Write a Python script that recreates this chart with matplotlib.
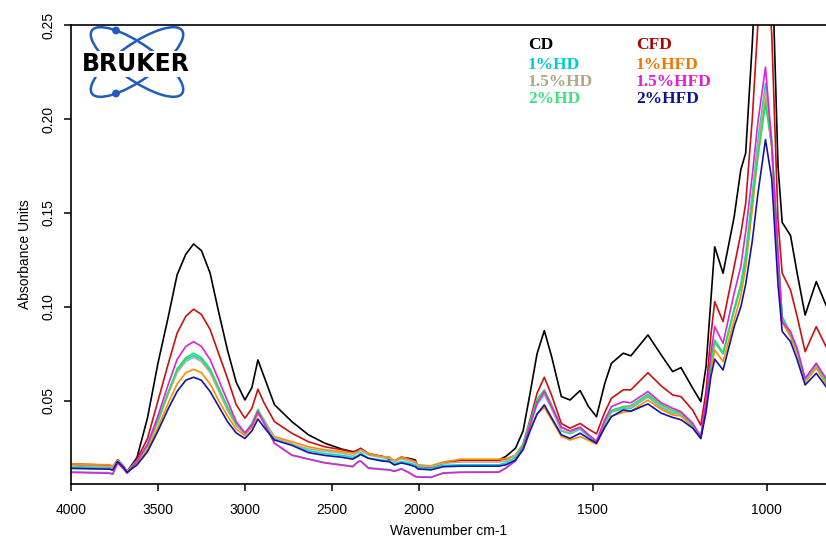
import matplotlib
matplotlib.use('Agg')
import matplotlib.pyplot as plt
import numpy as np
from matplotlib.patches import Ellipse, Circle

plt.rcParams['font.family'] = ['Liberation Sans', 'DejaVu Sans']

wn = [4000, 3780, 3760, 3732, 3700, 3677, 3620, 3560, 3500, 3440,
      3390, 3340, 3295, 3250, 3200, 3150, 3100, 3050, 3000, 2960,
      2925, 2890, 2830, 2730, 2635, 2540, 2440, 2380, 2350, 2335,
      2290, 2210, 2170, 2140, 2100, 2060, 2020, 2005, 1965, 1930,
      1880, 1770, 1750, 1722, 1700, 1680, 1660, 1639, 1618, 1590,
      1565, 1536, 1512, 1489, 1465, 1446, 1412, 1390, 1341, 1303,
      1270, 1246, 1212, 1189, 1174, 1160, 1149, 1125, 1093, 1074,
      1060, 1041, 1025, 1003, 985, 967, 955, 931, 912, 889,
      857, 829]

cd = [0.0155, 0.0148, 0.0143, 0.0186, 0.0155, 0.0124, 0.020, 0.041, 0.070, 0.095,
      0.117, 0.128, 0.1335, 0.130, 0.118, 0.097, 0.077, 0.060, 0.0505, 0.057,
      0.0718, 0.063, 0.048, 0.039, 0.032, 0.0275, 0.0243, 0.023, 0.0235, 0.0246,
      0.0218, 0.0204, 0.019, 0.0181, 0.020, 0.0195, 0.0186, 0.015, 0.0147, 0.0168,
      0.0186, 0.0186, 0.0204, 0.0248, 0.034, 0.054, 0.075, 0.0874, 0.0736, 0.0523,
      0.0505, 0.0555, 0.047, 0.0416, 0.0594, 0.070, 0.0754, 0.074, 0.0851, 0.0745,
      0.0656, 0.0677, 0.0567, 0.0496, 0.0682, 0.1037, 0.132, 0.1179, 0.148, 0.173,
      0.1818, 0.24, 0.30, 0.32, 0.29, 0.175, 0.145, 0.138, 0.118, 0.0957,
      0.1135, 0.101]

cfd = [0.0165, 0.0158, 0.0152, 0.0186, 0.0155, 0.0124, 0.019, 0.030, 0.050, 0.070,
       0.086, 0.095, 0.0988, 0.096, 0.088, 0.075, 0.062, 0.048, 0.0408, 0.046,
       0.0562, 0.049, 0.039, 0.0328, 0.0283, 0.0256, 0.024, 0.0225, 0.024, 0.0248,
       0.022, 0.0205, 0.0195, 0.018, 0.020, 0.019, 0.018, 0.015, 0.015, 0.017,
       0.0185, 0.0185, 0.019, 0.021, 0.027, 0.040, 0.054, 0.0626, 0.053, 0.038,
       0.0355, 0.038, 0.035, 0.0325, 0.044, 0.0514, 0.0559, 0.0559, 0.065, 0.058,
       0.0532, 0.0523, 0.045, 0.037, 0.055, 0.085, 0.1028, 0.0922, 0.1215, 0.139,
       0.155, 0.20, 0.25, 0.29, 0.245, 0.146, 0.118, 0.109, 0.095, 0.0762,
       0.0895, 0.0789]

hd1 = [0.0148, 0.0143, 0.0138, 0.018, 0.015, 0.0122, 0.018, 0.026, 0.039, 0.054,
       0.066, 0.072, 0.0742, 0.072, 0.066, 0.056, 0.046, 0.037, 0.0325, 0.037,
       0.0445, 0.040, 0.030, 0.0272, 0.0235, 0.022, 0.021, 0.020, 0.021, 0.0225,
       0.0195, 0.0185, 0.018, 0.0165, 0.0178, 0.017, 0.016, 0.0145, 0.014, 0.0157,
       0.016, 0.016, 0.017, 0.020, 0.026, 0.037, 0.048, 0.0535, 0.046, 0.034,
       0.0325, 0.035, 0.031, 0.028, 0.038, 0.044, 0.046, 0.046, 0.0522, 0.0465,
       0.0435, 0.043, 0.036, 0.0305, 0.047, 0.071, 0.081, 0.075, 0.099, 0.112,
       0.128, 0.16, 0.188, 0.219, 0.19, 0.127, 0.094, 0.0855, 0.076, 0.061,
       0.0685, 0.060]

hfd1 = [0.0165, 0.016, 0.0153, 0.0184, 0.0153, 0.0123, 0.017, 0.024, 0.036, 0.049,
        0.059, 0.065, 0.0668, 0.065, 0.059, 0.050, 0.042, 0.035, 0.0315, 0.036,
        0.043, 0.039, 0.031, 0.0283, 0.0256, 0.024, 0.023, 0.0222, 0.023, 0.024,
        0.0221, 0.0203, 0.0203, 0.018, 0.0203, 0.019, 0.0177, 0.016, 0.0155, 0.0175,
        0.019, 0.019, 0.0192, 0.021, 0.026, 0.035, 0.043, 0.0465, 0.040, 0.031,
        0.0292, 0.031, 0.029, 0.027, 0.036, 0.042, 0.044, 0.0445, 0.0505, 0.0455,
        0.0425, 0.042, 0.036, 0.030, 0.045, 0.066, 0.0771, 0.071, 0.093, 0.106,
        0.121, 0.152, 0.18, 0.211, 0.185, 0.124, 0.092, 0.084, 0.075, 0.060,
        0.0675, 0.059]

hd15 = [0.0155, 0.015, 0.0145, 0.0183, 0.0152, 0.0124, 0.018, 0.026, 0.039, 0.054,
        0.065, 0.071, 0.0732, 0.071, 0.065, 0.055, 0.045, 0.037, 0.0325, 0.037,
        0.0445, 0.040, 0.0305, 0.027, 0.0245, 0.0232, 0.0222, 0.021, 0.0225, 0.0238,
        0.0212, 0.0198, 0.0195, 0.0175, 0.0192, 0.0182, 0.017, 0.0155, 0.015, 0.0168,
        0.0175, 0.0175, 0.018, 0.021, 0.027, 0.038, 0.049, 0.054, 0.046, 0.0345,
        0.033, 0.0355, 0.0315, 0.0282, 0.0385, 0.0445, 0.0465, 0.0465, 0.0528, 0.047,
        0.044, 0.0435, 0.0365, 0.031, 0.047, 0.070, 0.0815, 0.0755, 0.098, 0.111,
        0.126, 0.158, 0.185, 0.2156, 0.188, 0.126, 0.094, 0.086, 0.076, 0.0605,
        0.069, 0.0605]

hfd15 = [0.012, 0.0115, 0.011, 0.017, 0.014, 0.0115, 0.018, 0.027, 0.042, 0.059,
         0.072, 0.079, 0.0815, 0.079, 0.072, 0.061, 0.050, 0.039, 0.033, 0.037,
         0.0443, 0.038, 0.0275, 0.0211, 0.019, 0.017, 0.0158, 0.015, 0.0175, 0.018,
         0.0142, 0.0135, 0.0133, 0.0125, 0.0138, 0.012, 0.0097, 0.0095, 0.0093, 0.0116,
         0.012, 0.0121, 0.0142, 0.018, 0.025, 0.037, 0.049, 0.055, 0.047, 0.036,
         0.034, 0.036, 0.032, 0.0285, 0.040, 0.047, 0.0496, 0.049, 0.055, 0.049,
         0.0461, 0.0443, 0.038, 0.031, 0.050, 0.075, 0.0895, 0.0807, 0.1074, 0.1215,
         0.14, 0.17, 0.198, 0.2276, 0.186, 0.129, 0.092, 0.0869, 0.078, 0.062,
         0.070, 0.062]

hd2 = [0.0122, 0.0118, 0.0113, 0.0175, 0.0145, 0.0118, 0.018, 0.026, 0.040, 0.055,
       0.067, 0.073, 0.0754, 0.073, 0.067, 0.057, 0.047, 0.038, 0.033, 0.038,
       0.0455, 0.039, 0.0275, 0.0213, 0.0192, 0.0172, 0.016, 0.0152, 0.0177, 0.0182,
       0.0145, 0.0137, 0.0135, 0.0127, 0.014, 0.0122, 0.0099, 0.0097, 0.0094, 0.0117,
       0.0121, 0.0122, 0.0143, 0.019, 0.027, 0.039, 0.051, 0.0559, 0.048, 0.036,
       0.034, 0.036, 0.032, 0.0283, 0.039, 0.045, 0.047, 0.0475, 0.0536, 0.048,
       0.045, 0.044, 0.037, 0.031, 0.047, 0.070, 0.0824, 0.0755, 0.0984, 0.1106,
       0.125, 0.157, 0.18, 0.208, 0.186, 0.128, 0.095, 0.086, 0.077, 0.0612,
       0.070, 0.0603]

hfd2 = [0.0141, 0.0137, 0.0132, 0.0178, 0.0148, 0.012, 0.016, 0.023, 0.034, 0.046,
        0.055, 0.061, 0.0626, 0.061, 0.055, 0.047, 0.039, 0.033, 0.030, 0.034,
        0.0404, 0.036, 0.0292, 0.0264, 0.0225, 0.021, 0.020, 0.019, 0.0205, 0.0215,
        0.0195, 0.018, 0.0177, 0.0159, 0.017, 0.0162, 0.015, 0.0138, 0.0133, 0.015,
        0.0153, 0.0153, 0.016, 0.0185, 0.024, 0.034, 0.043, 0.0479, 0.041, 0.032,
        0.0301, 0.0328, 0.030, 0.0275, 0.036, 0.0416, 0.0452, 0.0445, 0.0484, 0.0435,
        0.0412, 0.040, 0.0355, 0.030, 0.044, 0.063, 0.0722, 0.0665, 0.0895, 0.10,
        0.112, 0.135, 0.16, 0.189, 0.168, 0.112, 0.087, 0.0815, 0.072, 0.0585,
        0.0647, 0.0576]

names = ['CD', 'CFD', '1%HD', '1%HFD', '1.5%HD', '1.5%HFD', '2%HD', '2%HFD']
series = [cd, cfd, hd1, hfd1, hd15, hfd15, hd2, hfd2]
line_colors = ['black', '#cc1010', '#00d8d8', '#ff8c00', '#b8ae8c', '#e020e0', '#20e060', '#1414a0']
label_colors = ['black', '#b00000', '#00cccc', '#f07800', '#b0a888', '#e020d0', '#40e080', '#101090']
draw_order = [0, 1, 2, 3, 4, 6, 5, 7]   # green under magenta, as in the original


# OPUS style axis: above 2000 cm-1 the scale is compressed by half
def fwd(w):
    w = np.asarray(w, dtype=float)
    return np.where(w > 2000, 2000 + (w - 2000) / 2.0, w)


def inv(x):
    x = np.asarray(x, dtype=float)
    return np.where(x > 2000, 2000 + (x - 2000) * 2.0, x)


fig = plt.figure(figsize=(8.26, 5.39), dpi=100)
ax = fig.add_axes([71 / 826, 1 - 484 / 539, 1 - 71 / 826, (484 - 25) / 539])
ax.set_xscale('function', functions=(fwd, inv))

for i in draw_order:
    ax.plot(wn, series[i], color=line_colors[i], lw=1.2)

ax.set_xlim(4000, 829)
ax.set_ylim(0.0058, 0.25)
ax.set_xticks([4000, 3500, 3000, 2500, 2000, 1500, 1000])
ax.set_xticklabels(['4000', '3500', '3000', '2500', '2000', '1500', '1000'])
ax.set_xticks([], minor=True)
ax.set_yticks([0.05, 0.10, 0.15, 0.20, 0.25])
ax.set_yticklabels(['0.05', '0.10', '0.15', '0.20', '0.25'])
for lab in ax.get_yticklabels():
    lab.set_rotation(90)
    lab.set_va('center')
ax.tick_params(direction='out', length=5, width=1.1, labelsize=10)
ax.tick_params(axis='x', pad=9)
ax.tick_params(axis='y', pad=6)
ax.spines['right'].set_visible(False)
for s in ['left', 'bottom', 'top']:
    ax.spines[s].set_linewidth(1.2)
ax.set_xlabel('Wavenumber cm-1', fontsize=10, labelpad=5)
ax.set_ylabel('Absorbance Units', fontsize=10, labelpad=7)

# overlay in pixel units for the logo and the sample names
lax = fig.add_axes([0, 0, 1, 1], zorder=3)
lax.set_xlim(0, 826)
lax.set_ylim(539, 0)
lax.axis('off')
lax.patch.set_alpha(0)

logo_blue = '#1f5cc0'
lax.add_patch(Ellipse((137, 62), 110, 36, angle=35, fill=False, ec=logo_blue, lw=1.8))
lax.add_patch(Ellipse((137, 62), 110, 36, angle=-35, fill=False, ec=logo_blue, lw=1.8))
lax.add_patch(Circle((116, 30.5), 3.2, color=logo_blue))
lax.add_patch(Circle((116, 93.5), 3.2, color=logo_blue))
lax.text(136, 64, 'BRUKER', ha='center', va='center', fontsize=17,
         fontweight='bold', family='DejaVu Sans', color='black',
         bbox=dict(fc='white', ec='none', pad=0.5))

# sample names in two columns
left_x, right_x = 528, 636
rows_y = [45, 65, 82, 99]
for i in range(4):
    lax.text(left_x, rows_y[i], names[2 * i], color=label_colors[2 * i],
             family='Liberation Serif', fontweight='bold', fontsize=12.5,
             ha='left', va='center')
    lax.text(right_x, rows_y[i], names[2 * i + 1], color=label_colors[2 * i + 1],
             family='Liberation Serif', fontweight='bold', fontsize=12.5,
             ha='left', va='center')

fig.savefig('out.png', dpi=100)
